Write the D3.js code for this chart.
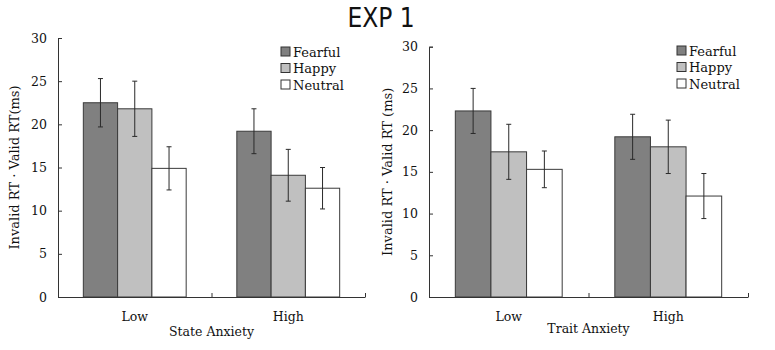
<!DOCTYPE html>
<html>
<head>
<meta charset="utf-8">
<script src="https://cdn.jsdelivr.net/npm/d3@7"></script>
<style>
  html, body { margin: 0; padding: 0; background: #fff; }
  svg { display: block; }
  text { font-family: "DejaVu Serif", "Liberation Serif", serif; fill: #111; }
</style>
</head>
<body>
<svg id="chart" width="775" height="350"></svg>
<script>
// ---- data ----
const title = "EXP 1";
const categories = ["Low", "High"];
const seriesNames = ["Fearful", "Happy", "Neutral"];
const yTicks = [0, 5, 10, 15, 20, 25, 30];

// State Anxiety panel
const stateFearful = [22.5, 19.2];
const stateHappy   = [21.8, 14.1];
const stateNeutral = [14.9, 12.6];
const stateFearfulErr = [2.8, 2.6];
const stateHappyErr   = [3.2, 3.0];
const stateNeutralErr = [2.5, 2.4];

// Trait Anxiety panel
const traitFearful = [22.3, 19.2];
const traitHappy   = [17.4, 18.0];
const traitNeutral = [15.3, 12.1];
const traitFearfulErr = [2.7, 2.7];
const traitHappyErr   = [3.3, 3.2];
const traitNeutralErr = [2.2, 2.7];

const colors = ["#808080", "#c0c0c0", "#ffffff"];

const panels = [
  { xLabel: "State Anxiety", yLabel: "Invalid RT · Valid RT(ms)",
    values: [stateFearful, stateHappy, stateNeutral],
    errors: [stateFearfulErr, stateHappyErr, stateNeutralErr],
    x0: 58, x1: 365, yTop: 38, yBot: 297, yLabelX: 19, legendX: 281, legendY: 52,
    xLabelY: 336, catY: 321 },
  { xLabel: "Trait Anxiety", yLabel: "Invalid RT · Valid RT (ms)",
    values: [traitFearful, traitHappy, traitNeutral],
    errors: [traitFearfulErr, traitHappyErr, traitNeutralErr],
    x0: 429, x1: 748, yTop: 46.7, yBot: 297, yLabelX: 392, legendX: 677, legendY: 51,
    xLabelY: 333, catY: 321 }
];

const svg = d3.select("#chart");

svg.append("text")
  .attr("x", 381).attr("y", 27)
  .attr("text-anchor", "middle")
  .style("font-family", "'Liberation Sans Narrow', 'DejaVu Sans Condensed', sans-serif")
  .style("font-size", "26px")
  .text(title);

panels.forEach(p => {
  const g = svg.append("g");
  const y = d3.scaleLinear().domain([0, 30]).range([p.yBot, p.yTop]);
  const xCat = d3.scaleBand().domain(categories).range([p.x0, p.x1])
    .paddingInner(0.33).paddingOuter(0.165);
  const xSer = d3.scaleBand().domain(seriesNames).range([0, xCat.bandwidth()]);

  // bars
  seriesNames.forEach((s, si) => {
    categories.forEach((c, ci) => {
      const v = p.values[si][ci];
      const e = p.errors[si][ci];
      const bx = xCat(c) + xSer(s);
      g.append("rect")
        .attr("x", bx).attr("y", y(v))
        .attr("width", xSer.bandwidth()).attr("height", y(0) - y(v))
        .attr("fill", colors[si]).attr("stroke", "#3a3a3a").attr("stroke-width", 1);
      const cx = bx + xSer.bandwidth() / 2;
      g.append("line").attr("x1", cx).attr("x2", cx)
        .attr("y1", y(v + e)).attr("y2", y(v - e))
        .attr("stroke", "#2a2a2a").attr("stroke-width", 1);
      [v + e, v - e].forEach(t => {
        g.append("line").attr("x1", cx - 2.5).attr("x2", cx + 2.5)
          .attr("y1", y(t)).attr("y2", y(t))
          .attr("stroke", "#2a2a2a").attr("stroke-width", 1);
      });
    });
  });

  // y axis
  const yAxis = d3.axisLeft(y).tickValues(yTicks).tickSize(-4).tickPadding(11);
  const ya = g.append("g").attr("transform", `translate(${p.x0},0)`).call(yAxis);
  ya.select(".domain").attr("stroke", "#333");
  ya.selectAll(".tick line").attr("stroke", "#333");
  ya.selectAll(".tick text").style("font-family", "'DejaVu Serif', serif")
    .style("font-size", "12.5px").attr("fill", "#111");

  // x axis line with boundary ticks pointing up
  const xAxisScale = d3.scaleLinear().domain([0, categories.length]).range([p.x0, p.x1]);
  const xa = g.append("g").attr("transform", `translate(0,${p.yBot})`)
    .call(d3.axisBottom(xAxisScale).tickValues(d3.range(categories.length + 1))
      .tickSize(-4).tickSizeOuter(0).tickFormat(""));
  xa.select(".domain").attr("stroke", "#333");
  xa.selectAll(".tick line").attr("stroke", "#333");

  // category labels
  categories.forEach(c => {
    g.append("text").attr("x", xCat(c) + xCat.bandwidth() / 2).attr("y", p.catY)
      .attr("text-anchor", "middle").style("font-size", "12.5px").text(c);
  });

  // axis titles
  g.append("text").attr("x", (p.x0 + p.x1) / 2).attr("y", p.xLabelY)
    .attr("text-anchor", "middle").style("font-size", "12.5px").text(p.xLabel);
  g.append("text")
    .attr("transform", `translate(${p.yLabelX},${(p.yTop + p.yBot) / 2}) rotate(-90)`)
    .attr("text-anchor", "middle").style("font-size", "13px").text(p.yLabel);

  // legend
  seriesNames.forEach((s, si) => {
    const ly = p.legendY + si * 16.5;
    g.append("rect").attr("x", p.legendX).attr("y", ly - 5)
      .attr("width", 9).attr("height", 9)
      .attr("fill", colors[si]).attr("stroke", "#333").attr("stroke-width", 1);
    g.append("text").attr("x", p.legendX + 12).attr("y", ly + 4.5)
      .style("font-size", "13px").text(s);
  });
});
</script>
</body>
</html>
